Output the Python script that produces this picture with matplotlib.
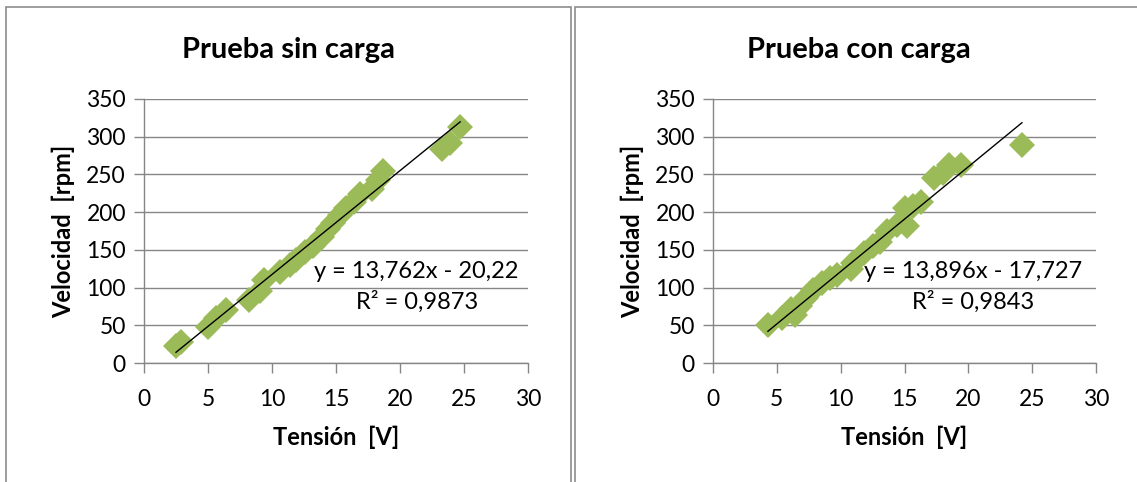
import matplotlib
matplotlib.use("Agg")
import matplotlib.pyplot as plt
from matplotlib.patches import Rectangle
import numpy as np

plt.rcParams["font.family"] = ["Lato", "DejaVu Sans"]

# --- datos: prueba sin carga ---
volt_sin = [2.5, 2.9, 5.0, 5.6, 6.4, 8.2, 9.1, 9.4, 10.6, 11.4, 11.9, 12.6, 13.2,
            13.9, 14.4, 14.8, 15.3, 15.8, 16.4, 16.9, 17.8, 18.3, 18.7, 23.3, 23.9, 24.7]
rpm_sin = [22, 28, 48, 60, 70, 84, 96, 110, 121, 130, 136, 147, 155,
           167, 178, 186, 196, 206, 214, 224, 231, 242, 254, 284, 292, 313]
fit_sin = (13.762, -20.22)
r2_sin = "0,9873"
eq_sin = "y = 13,762x - 20,22"

# --- datos: prueba con carga ---
volt_con = [4.3, 5.4, 6.1, 6.4, 6.8, 7.3, 7.8, 8.5, 9.2, 9.7, 10.8, 11.0, 11.8,
            12.5, 13.1, 13.6, 14.4, 15.0, 15.2, 15.7, 16.3, 17.3, 18.0, 18.5, 19.4, 24.2]
rpm_con = [51, 60, 71, 64, 75, 86, 97, 106, 113, 117, 124, 132, 146,
           155, 161, 175, 183, 205, 181, 208, 214, 245, 252, 262, 262, 289]
fit_con = (13.896, -17.727)
r2_con = "0,9843"
eq_con = "y = 13,896x - 17,727"

x_ticks = [0, 5, 10, 15, 20, 25, 30]
y_ticks = [0, 50, 100, 150, 200, 250, 300, 350]

W, H = 1137, 482
GREEN = "#9BBB59"
GRAY = "#868686"

fig = plt.figure(figsize=(W / 100, H / 100), dpi=100)


def px_axes(x0, y0, x1, y1):
    return fig.add_axes([x0 / W, 1 - y1 / H, (x1 - x0) / W, (y1 - y0) / H])


def draw_panel(ax, volt, rpm, fit, eq, r2, text_x):
    ax.plot(volt, rpm, linestyle="none", marker="D", markersize=13,
            color=GREEN, markeredgewidth=0, zorder=3)
    xs = np.array([min(volt), max(volt)])
    ax.plot(xs, fit[0] * xs + fit[1], color="black", linewidth=1, zorder=4)

    ax.set_xlim(0, 30)
    ax.set_ylim(0, 350)
    ax.set_xticks(x_ticks)
    ax.set_yticks(y_ticks)
    ax.tick_params(axis="both", direction="out", length=7, width=1,
                   color=GRAY, labelsize=16.5)
    ax.tick_params(axis="x", pad=12)
    ax.tick_params(axis="y", pad=6)
    ax.yaxis.grid(True, color=GRAY, linewidth=1)
    ax.set_axisbelow(True)
    for s in ("top", "right"):
        ax.spines[s].set_visible(False)
    for s in ("left", "bottom"):
        ax.spines[s].set_color(GRAY)
        ax.spines[s].set_linewidth(1)

    ax.set_xlabel("Tensión  [V]", fontsize=17, fontweight="bold", labelpad=11)
    ax.set_ylabel("Velocidad  [rpm]", fontsize=17, fontweight="bold", labelpad=8)

    ax.text(text_x, 121, eq, ha="center", va="center", fontsize=17, zorder=5)
    ax.text(text_x, 81, "R² = " + r2, ha="center", va="center", fontsize=17, zorder=5)


ax1 = px_axes(144, 99, 528, 363)
draw_panel(ax1, volt_sin, rpm_sin, fit_sin, eq_sin, r2_sin, 21.3)

ax2 = px_axes(713, 99, 1096, 363)
draw_panel(ax2, volt_con, rpm_con, fit_con, eq_con, r2_con, 20.4)

fig.text(289 / W, 1 - 50 / H, "Prueba sin carga", ha="center", va="center",
         fontsize=21, fontweight="bold")
fig.text(859 / W, 1 - 50 / H, "Prueba con carga", ha="center", va="center",
         fontsize=21, fontweight="bold")

# marcos de los dos gráficos
for x0, x1 in [(6, 571), (575, 1145)]:
    fig.patches.append(Rectangle((x0 / W, -0.05), (x1 - x0) / W, 1 - 7 / H + 0.05,
                                 transform=fig.transFigure, fill=False,
                                 edgecolor="#8c8c8c", linewidth=1.2))

fig.savefig("out.png", dpi=100)
